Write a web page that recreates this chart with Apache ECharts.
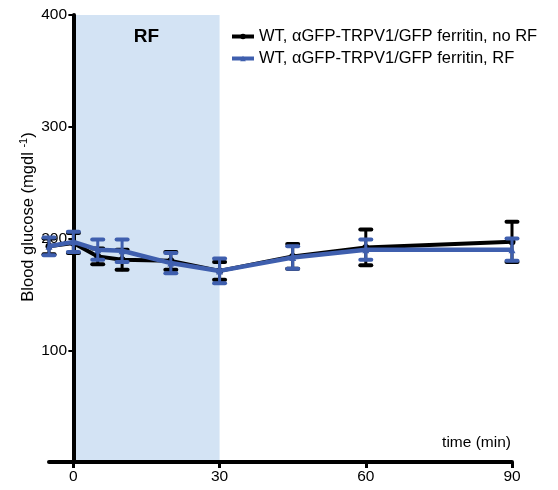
<!DOCTYPE html>
<html>
<head>
<meta charset="utf-8">
<script src="https://cdn.jsdelivr.net/npm/echarts@6/dist/echarts.min.js"></script>
<style>
  html, body { margin: 0; padding: 0; background: #fff; }
  #chart { width: 558px; height: 490px; }
</style>
</head>
<body>
<div id="chart"></div>
<script>
  // time points (min)
  const times = [-5, 0, 5, 10, 20, 30, 45, 60, 90];
  // WT, no RF
  const noRfMean = [193, 196, 184, 181, 180, 171, 184, 192, 197];
  const noRfSem = [7, 9, 7, 9, 8, 8, 11, 16, 18];
  // WT, RF
  const rfMean = [193, 197, 190, 189, 178, 171, 183, 190, 190];
  const rfSem = [8, 9, 9, 10, 9, 11, 10, 9, 10];

  const xTicks = [0, 30, 60, 90];
  const rfWindow = [0, 30];

  const nameNoRf = 'WT, \u03b1GFP-TRPV1/GFP ferritin, no RF';
  const nameRf = 'WT, \u03b1GFP-TRPV1/GFP ferritin, RF';
  const BLACK = '#000000';
  const BLUE = '#3f5fae';
  const FONT = 'Liberation Sans, Arial, sans-serif';

  const pts = (mean) => times.map((t, i) => [t, mean[i]]);
  const bars = (mean, sem) => times.map((t, i) => [t, mean[i] - sem[i], mean[i] + sem[i]]);

  function errorBars(color, lineW) {
    return (params, api) => {
      const lo = api.coord([api.value(0), api.value(1)]);
      const hi = api.coord([api.value(0), api.value(2)]);
      const half = 5.5;
      const style = { stroke: color, lineWidth: lineW, lineCap: 'round' };
      return {
        type: 'group',
        children: [
          { type: 'line', shape: { x1: lo[0], y1: lo[1], x2: hi[0], y2: hi[1] }, style },
          { type: 'line', shape: { x1: lo[0] - half, y1: lo[1], x2: lo[0] + half, y2: lo[1] }, style: { ...style, lineWidth: 4 } },
          { type: 'line', shape: { x1: hi[0] - half, y1: hi[1], x2: hi[0] + half, y2: hi[1] }, style: { ...style, lineWidth: 4 } }
        ]
      };
    };
  }

  const chart = echarts.init(document.getElementById('chart'), null, { renderer: 'canvas' });

  chart.setOption({
    animation: false,
    textStyle: { fontFamily: FONT },
    grid: { left: 49, right: 46, top: 15, bottom: 28 },
    legend: {
      orient: 'vertical',
      left: 225,
      top: 23,
      itemGap: 5,
      itemWidth: 22,
      itemHeight: 7,
      lineStyle: { width: 4 },
      data: [nameNoRf, nameRf],
      textStyle: { fontSize: 16.5, color: '#000', fontFamily: FONT }
    },
    xAxis: {
      type: 'value',
      min: -5,
      max: 90,
      splitLine: { show: false },
      axisLine: { onZero: false, lineStyle: { color: '#000', width: 4 } },
      axisTick: { customValues: xTicks, length: 6, lineStyle: { color: '#000', width: 3 } },
      axisLabel: { customValues: xTicks, fontSize: 15.5, color: '#000', margin: 7 }
    },
    yAxis: {
      type: 'value',
      min: 0,
      max: 400,
      interval: 100,
      splitLine: { show: false },
      axisLine: { onZero: true, lineStyle: { color: '#000', width: 4 } },
      axisTick: { length: 5, lineStyle: { color: '#000', width: 2 } },
      axisLabel: { showMinLabel: false, fontSize: 15.5, color: '#000', margin: -18 }
    },
    graphic: [
      {
        type: 'text',
        x: 28,
        y: 217,
        rotation: Math.PI / 2,
        style: {
          text: 'Blood glucose (mgdl {sup|-1})',
          rich: { sup: { fontSize: 11, verticalAlign: 'top', padding: [0, 0, 9, 0] } },
          fontSize: 16.5,
          fontFamily: FONT,
          fill: '#000',
          align: 'center',
          verticalAlign: 'middle'
        }
      },
      {
        type: 'text',
        x: 511,
        y: 443,
        style: {
          text: 'time (min)',
          fontSize: 15.5,
          fontFamily: FONT,
          fill: '#000',
          align: 'right',
          verticalAlign: 'middle'
        }
      }
    ],
    series: [
      {
        name: nameNoRf,
        type: 'line',
        data: pts(noRfMean),
        symbol: 'circle',
        symbolSize: 7,
        z: 2,
        lineStyle: { color: BLACK, width: 4 },
        itemStyle: { color: BLACK },
        markArea: {
          silent: true,
          z: 0,
          itemStyle: { color: '#d3e3f4' },
          label: { show: true, position: 'insideTop', distance: 12, color: '#000', fontSize: 19, fontWeight: 'bold', fontFamily: FONT },
          data: [[{ name: 'RF', xAxis: rfWindow[0], yAxis: 400 }, { xAxis: rfWindow[1], yAxis: 0 }]]
        }
      },
      {
        name: 'noRfErr',
        type: 'custom',
        data: bars(noRfMean, noRfSem),
        renderItem: errorBars(BLACK, 3),
        z: 3
      },
      {
        name: nameRf,
        type: 'line',
        data: pts(rfMean),
        symbol: 'triangle',
        symbolSize: 7,
        z: 4,
        lineStyle: { color: BLUE, width: 4.5 },
        itemStyle: { color: BLUE }
      },
      {
        name: 'rfErr',
        type: 'custom',
        data: bars(rfMean, rfSem),
        renderItem: errorBars(BLUE, 3),
        z: 5
      }
    ]
  });
</script>
</body>
</html>
